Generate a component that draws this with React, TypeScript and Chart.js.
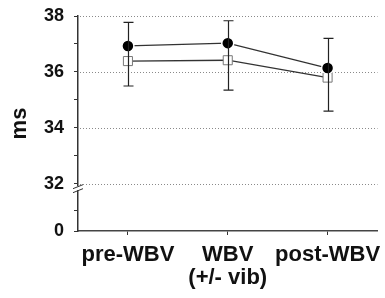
import React, { useEffect, useRef } from "react";
import { Chart, registerables } from "chart.js";

Chart.register(...registerables);

// ---- data ----
const categories: (string | string[])[] = ["pre-WBV", ["WBV", "(+/- vib)"], "post-WBV"];
const vibMeans = [36.93, 37.03, 36.14];      // filled circles
const vibUpperErr = [0.84, 0.80, 1.06];
const shamMeans = [36.39, 36.42, 35.80];     // open squares
const shamLowerErr = [0.89, 1.07, 1.20];

// y axis (broken: lower segment shows "0")
const yBase = 30.32;                         // value where "0" sits
const yMax = 38;
const yTickValues = [yBase, 31.07, 32, 33, 34, 35, 36, 37, 38];
const yTickLabels = ["0", "", "32", "", "34", "", "36", "", "38"];
const gridValues = [32, 34, 36, 38];
const breakValue = 31.85;
const yTitle = "ms";

const FONT = "'Liberation Sans', Arial, Helvetica, sans-serif";

const errorBarPlugin = {
  id: "errorBars",
  afterDatasetsDraw(chart: any) {
    const { ctx, scales } = chart;
    const xs = scales.x, ys = scales.y;
    ctx.save();
    ctx.strokeStyle = "#222";
    ctx.lineWidth = 1.2;
    for (let i = 0; i < categories.length; i++) {
      const x = Math.round(xs.getPixelForValue(i)) + 0.5;
      const yTop = ys.getPixelForValue(vibMeans[i] + vibUpperErr[i]);
      const yBot = ys.getPixelForValue(shamMeans[i] - shamLowerErr[i]);
      ctx.beginPath();
      ctx.moveTo(x, yTop);
      ctx.lineTo(x, yBot);
      ctx.moveTo(x - 5, yTop);
      ctx.lineTo(x + 5, yTop);
      ctx.moveTo(x - 5, yBot);
      ctx.lineTo(x + 5, yBot);
      ctx.stroke();
    }
    ctx.restore();
  },
};

const gridPlugin = {
  id: "dottedGrid",
  beforeDatasetsDraw(chart: any) {
    const { ctx, scales, chartArea } = chart;
    const ys = scales.y;
    ctx.save();
    ctx.strokeStyle = "#8a8a8a";
    ctx.lineWidth = 1;
    ctx.setLineDash([1, 2]);
    for (const v of gridValues) {
      const y = Math.round(ys.getPixelForValue(v)) + 0.5;
      ctx.beginPath();
      ctx.moveTo(chartArea.left + 2, y);
      ctx.lineTo(chartArea.right, y);
      ctx.stroke();
    }
    ctx.restore();
  },
};

const breakPlugin = {
  id: "axisBreak",
  afterDraw(chart: any) {
    const { ctx, scales } = chart;
    const ys = scales.y;
    const x = ys.right;
    const y = ys.getPixelForValue(breakValue);
    ctx.save();
    ctx.fillStyle = "#fff";
    ctx.fillRect(x - 2, y - 2, 4, 4);
    ctx.strokeStyle = "#333";
    ctx.lineWidth = 1;
    ctx.beginPath();
    ctx.moveTo(x - 5, y + 0.5);
    ctx.lineTo(x + 5, y - 3.5);
    ctx.moveTo(x - 5, y + 4.5);
    ctx.lineTo(x + 5, y + 0.5);
    ctx.stroke();
    ctx.restore();
  },
};

export default function App() {
  const ref = useRef<HTMLCanvasElement | null>(null);

  useEffect(() => {
    if (!ref.current) return;
    const chart = new Chart(ref.current, {
      type: "line",
      data: {
        labels: categories as any,
        datasets: [
          {
            data: vibMeans,
            borderColor: "#333",
            borderWidth: 1.3,
            pointStyle: "circle",
            pointRadius: 6,
            pointBackgroundColor: "#000",
            pointBorderColor: "#fff",
            pointBorderWidth: 1.5,
            fill: false,
          },
          {
            data: shamMeans,
            borderColor: "#333",
            borderWidth: 1.3,
            pointStyle: "rect",
            pointRadius: 6.4,
            pointBackgroundColor: "#fff",
            pointBorderColor: "#777",
            pointBorderWidth: 1,
            fill: false,
          },
        ],
      },
      options: {
        animation: false,
        responsive: false,
        maintainAspectRatio: false,
        layout: { padding: { top: 16, right: 1, left: 0, bottom: 0 } },
        plugins: { legend: { display: false }, tooltip: { enabled: false } },
        scales: {
          x: {
            type: "category",
            offset: true,
            afterFit: (s: any) => {
              s.height = 67;
              s.paddingLeft = 0;
              s.paddingRight = 0;
            },
            grid: {
              drawOnChartArea: false,
              drawTicks: true,
              tickLength: 4,
              tickColor: "#333",
              tickWidth: 1,
            },
            border: { display: true, color: "#444", width: 1.5 },
            ticks: {
              color: "#111",
              padding: 8,
              maxRotation: 0,
              autoSkip: false,
              font: { family: FONT, size: 22, weight: "bold", lineHeight: 1.05 },
            },
          },
          y: {
            type: "linear",
            min: yBase,
            max: yMax,
            afterFit: (s: any) => {
              s.width = 78;
              s.paddingTop = 0;
              s.paddingBottom = 0;
            },
            afterBuildTicks: (s: any) => {
              s.ticks = yTickValues.map((v) => ({ value: v }));
            },
            grid: {
              drawOnChartArea: false,
              drawTicks: true,
              tickLength: 4,
              tickColor: "#333",
              tickWidth: 1,
            },
            border: { display: true, color: "#333", width: 1.5 },
            ticks: {
              color: "#111",
              padding: 10,
              autoSkip: false,
              font: { family: FONT, size: 18, weight: "bold" },
              callback: (_v: any, i: number) => yTickLabels[i],
            },
            title: {
              display: true,
              text: yTitle,
              color: "#111",
              padding: { top: 8, bottom: 0 },
              font: { family: FONT, size: 22, weight: "bold", lineHeight: 1.1 },
            },
          },
        },
      },
      plugins: [gridPlugin, errorBarPlugin, breakPlugin],
    } as any);
    return () => chart.destroy();
  }, []);

  return (
    <div style={{ position: "fixed", left: 0, top: 0, width: 385, height: 298, background: "#fff" }}>
      <canvas ref={ref} width={385} height={298} style={{ width: 385, height: 298 }} />
    </div>
  );
}
